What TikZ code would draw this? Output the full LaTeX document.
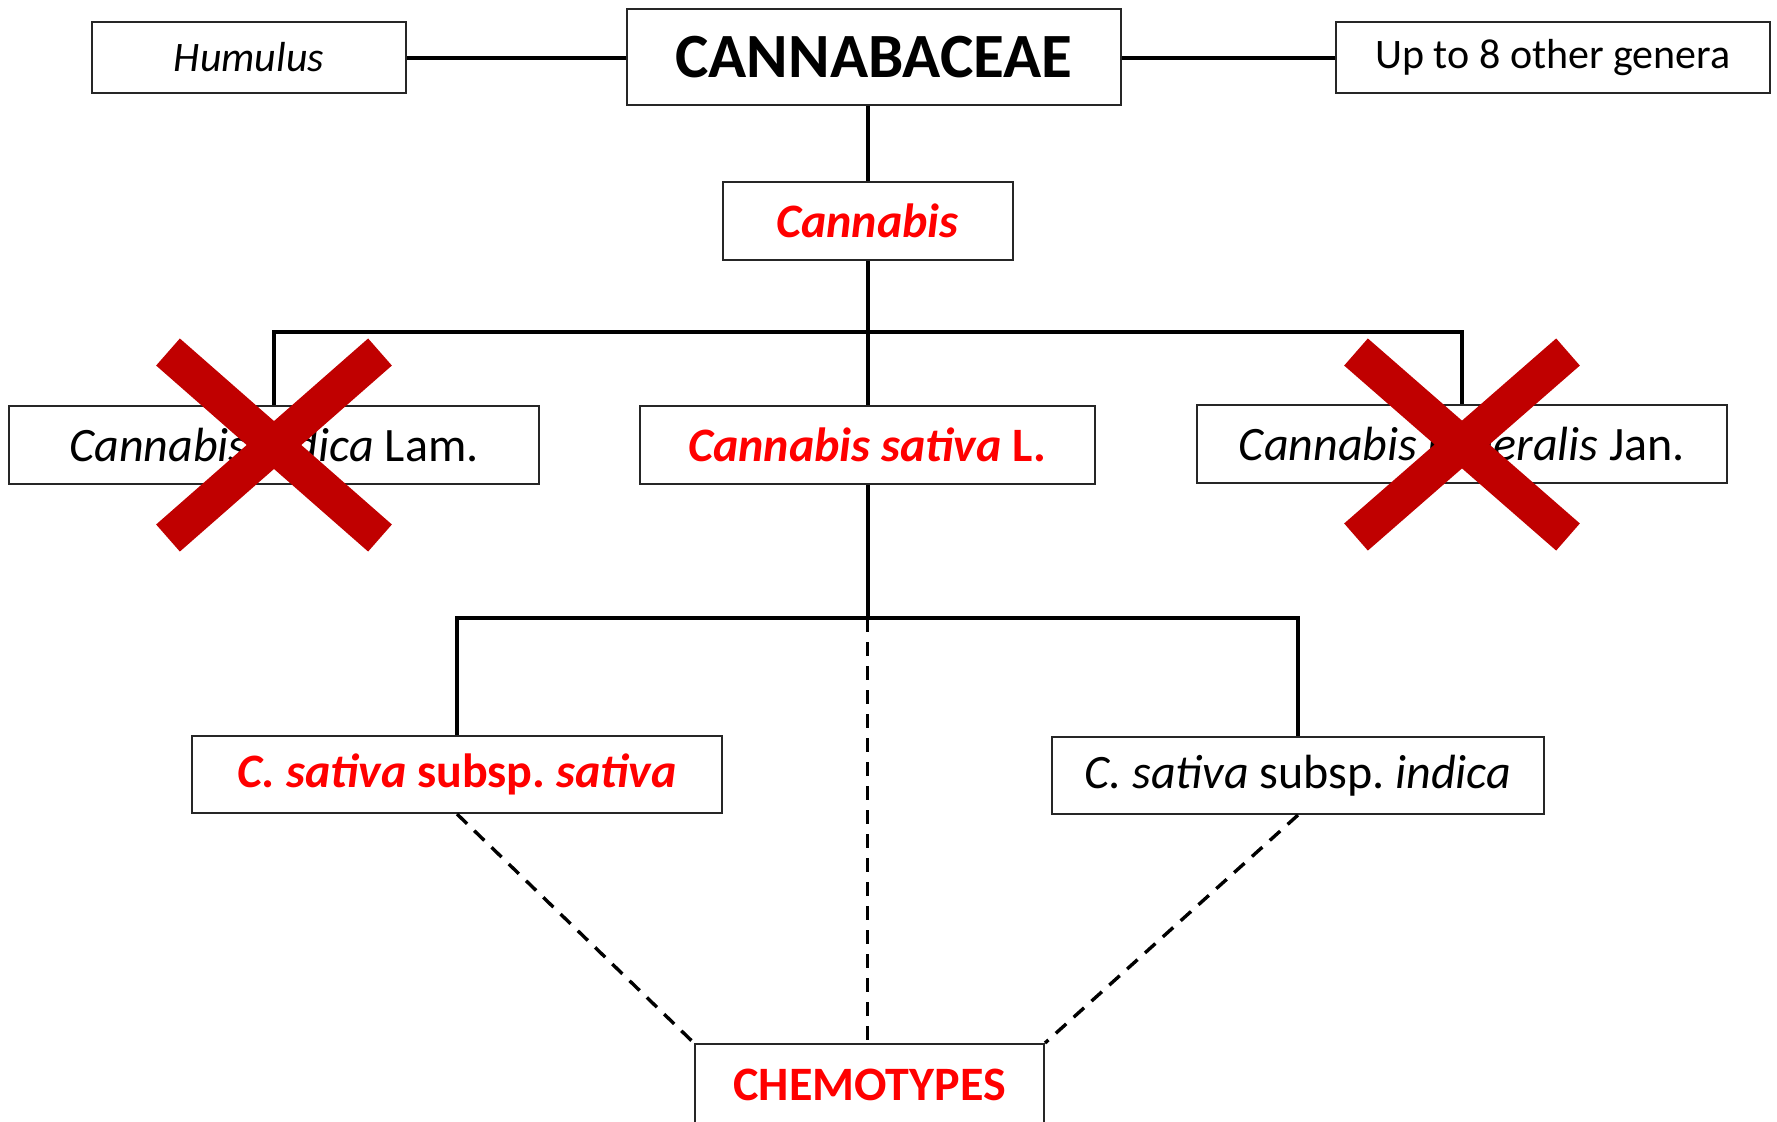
\documentclass[tikz,border=0pt]{standalone}
\usepackage{fontspec}
\setmainfont{Carlito}
\usetikzlibrary{positioning}
\definecolor{crossred}{HTML}{C00000}
\tikzset{
  taxon/.style={rectangle, draw=black!85, line width=1pt, inner sep=0pt, minimum height=39pt, font=\fontsize{24}{28}\selectfont},
  side/.style={taxon, minimum height=35.5pt, font=\fontsize{21}{25}\selectfont},
  connect/.style={line width=2pt},
  guess/.style={line width=1.7pt, dash pattern=on 7pt off 5pt},
  cross/.style={line width=18pt, draw=crossred}
}

\begin{document}
\begin{tikzpicture}[x=0.5pt, y=-0.5pt]
  \useasboundingbox (0,0) rectangle (1777,1121);
  \node[taxon, minimum width=247pt, minimum height=48pt, font=\fontsize{31.5}{36}\selectfont\bfseries] (Fam) at (874,57) {CANNABACEAE};
  \node[side, minimum width=157pt] (Hum) at (249,57.5) {\itshape Humulus};
  \node[side, minimum width=217pt] (Gen) at (1553,57.5) {Up to 8 other genera};
  \node[taxon, minimum width=145pt, text=red, font=\fontsize{24}{28}\selectfont\bfseries\itshape] (Can) at (867.5,221) {Cannabis};
  \node[taxon, minimum width=265pt] (Ind) at (274,445) {\textit{Cannabis indica} Lam.};
  \node[taxon, minimum width=227.5pt, text=red, font=\fontsize{24}{28}\selectfont\bfseries] (Sat) at (867.5,445) {\textit{Cannabis sativa} L.};
  \node[taxon, minimum width=265pt] (Rud) at (1462,444) {\textit{Cannabis ruderalis} Jan.};
  \node[taxon, minimum width=265pt, minimum height=38.5pt, text=red, font=\fontsize{24}{28}\selectfont\bfseries] (SubS) at (457,774.5) {\textit{C. sativa} subsp.\ \textit{sativa}};
  \node[taxon, minimum width=246pt, minimum height=38.5pt] (SubI) at (1298,775.5) {\textit{C. sativa} subsp.\ \textit{indica}};
  \node[taxon, minimum width=174.5pt, minimum height=41pt, text=red, font=\fontsize{24}{28}\selectfont\bfseries] (Chem) at (869.5,1085) {CHEMOTYPES};

  \coordinate (J1) at (867.5,332);
  \coordinate (J2) at (867.5,618);

  \draw[connect] (Hum.east) -- (Hum.east -| Fam.west);
  \draw[connect] (Gen.west -| Fam.east) -- (Gen.west);
  \draw[connect] (Can.north |- Fam.south) -- (Can.north);
  \draw[connect] (Can.south) -- (Sat.north);
  \draw[connect] (Ind.north) |- (J1) -| (Rud.north);
  \draw[connect] (Sat.south) -- (J2);
  \draw[connect] (SubS.north) |- (J2) -| (SubI.north);
  \draw[guess] (J2) -- (J2 |- Chem.north);
  \draw[guess] (SubS.south) -- (Chem.north west);
  \draw[guess] (SubI.south) -- (Chem.north east);

  % rejected species
  \draw[cross] (168,352) -- (380,538) (168,538) -- (380,352);
  \draw[cross] (1356,352) -- (1568,537) (1356,537) -- (1568,352);
\end{tikzpicture}
\end{document}
